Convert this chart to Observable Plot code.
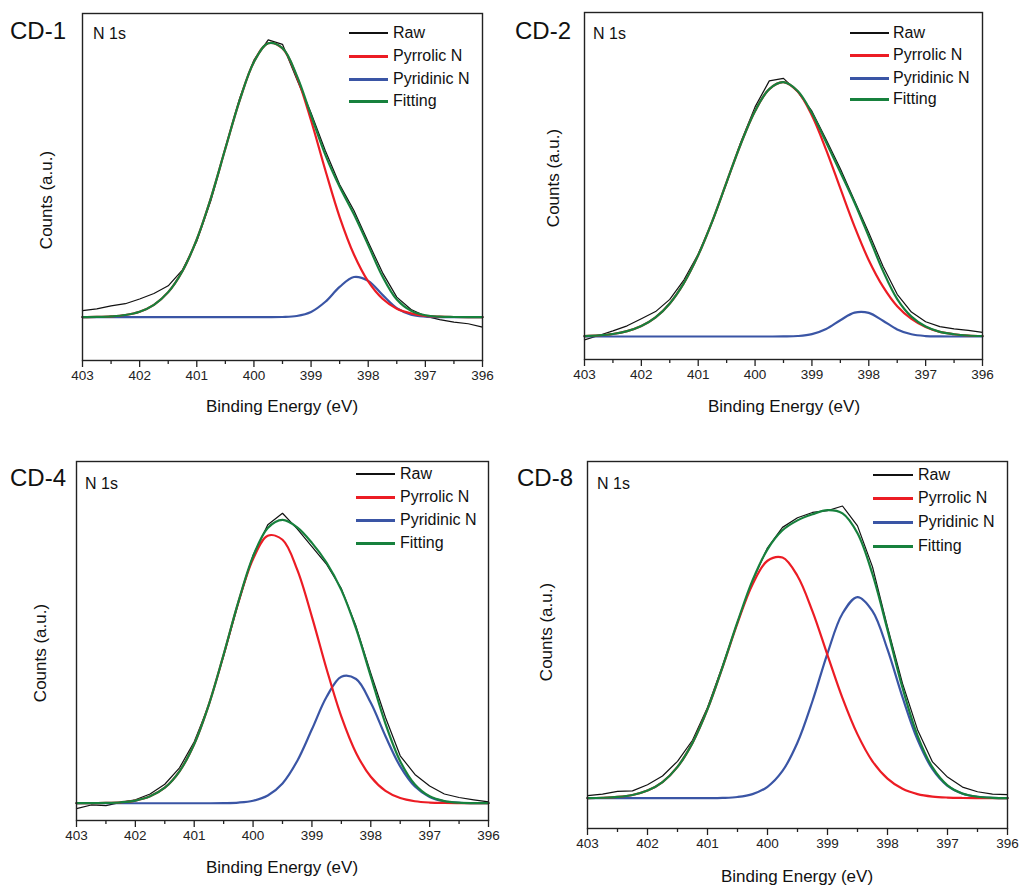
<!DOCTYPE html>
<html><head><meta charset="utf-8">
<script src="https://cdn.jsdelivr.net/npm/d3@7"></script>
<script src="https://cdn.jsdelivr.net/npm/@observablehq/plot@0.6"></script>
<style>
body{margin:0;background:#fff;}
#root{position:relative;width:1026px;height:890px;font-family:"Liberation Sans",Arial,sans-serif;color:#111;overflow:hidden;}
.abs{position:absolute;white-space:nowrap;line-height:1;}
.plot{position:absolute;}
#root svg text{font-size:13.5px !important;font-family:"Liberation Sans",Arial,sans-serif !important;fill:#222;}
</style></head><body><div id="root"></div><script>
// Binding energy sample points (eV)
const energy = [403,402.75,402.5,402.25,402,401.75,401.5,401.25,401,400.75,400.5,400.25,400,399.75,399.5,399.25,399,398.75,398.5,398.25,398,397.75,397.5,397.25,397,396.75,396.5,396.25,396];
const majorTicks = [403,402,401,400,399,398,397,396];
const minorTicks = [402.5,401.5,400.5,399.5,398.5,397.5,396.5];
const seriesNames = ["Raw","Pyrrolic N","Pyridinic N","Fitting"];
const panelNames = ["CD-1","CD-2","CD-4","CD-8"];
const coreLevel = "N 1s";
const xTitle = "Binding Energy (eV)";
const yTitle = "Counts (a.u.)";

// CD-1 (counts, a.u.)
const cd1Raw = [2.4,3.0,4.1,4.9,6.6,8.6,11.4,17.2,27.6,42.6,61.5,79.5,93.5,100.8,99.2,86.5,74.2,60.5,48.2,38.8,27.3,16.2,7.3,2.8,0.4,-0.9,-1.8,-2.4,-3.6];
const cd1Pyrrolic = [0.03,0.1,0.3,0.8,2.0,4.5,9.1,16.8,28.3,43.5,61.3,78.8,92.8,99.6,97.7,87.4,71.5,53.4,36.4,22.8,13.0,6.7,3.1,1.4,0.5,0.2,0.07,0.02,0.01];
const cd1Pyridinic = [0,0,0,0,0,0,0,0,0,0,0,0,0,0,0.07,0.44,1.9,5.6,11.0,14.6,13.2,8.1,3.3,0.9,0.18,0.02,0,0,0];
const cd1Fitting = [0.03,0.1,0.3,0.8,2.0,4.5,9.1,16.8,28.3,43.5,61.3,78.8,92.8,99.6,97.8,87.8,73.4,59.0,47.4,37.4,26.2,14.8,6.4,2.3,0.7,0.2,0.07,0.02,0.01];

// CD-2
const cd2Raw = [-1.3,0.4,2.2,4.2,7.0,9.8,14.6,22.3,32.4,45.2,60.4,76.5,90.3,100.5,101.5,96.2,88.6,77.5,66.0,53.4,40.8,27.6,16.6,9.6,5.8,3.9,3.0,2.4,1.6];
const cd2Pyrrolic = [0.18,0.44,1.0,2.1,4.1,7.5,13.0,21.1,32.0,45.5,60.7,75.8,88.7,97.3,100.0,96.3,86.9,73.4,58.2,43.2,30.0,19.6,11.9,6.9,3.7,1.8,0.9,0.4,0.2];
const cd2Pyridinic = [0,0,0,0,0,0,0,0,0,0,0,0,0,0,0.03,0.19,0.92,2.95,6.4,9.4,9.3,6.2,2.8,0.87,0.18,0.03,0,0,0];
const cd2Fitting = [0.18,0.44,1.0,2.1,4.1,7.5,13.0,21.1,32.0,45.5,60.7,75.8,88.7,97.3,100.0,96.5,87.8,76.4,64.6,52.6,39.3,25.8,14.7,7.8,3.9,1.8,0.9,0.4,0.2];

// CD-4
const cd4Raw = [-1.9,-0.6,-0.8,0.3,1.2,3.2,6.6,12.3,21.4,34.2,51.2,69.6,86.2,96.8,100.8,95.4,89.2,83.0,74.6,61.5,45.2,29.8,16.5,10.0,6.0,3.2,2.0,1.2,0.5];
const cd4Pyrrolic = [0.01,0.03,0.1,0.33,0.93,2.4,5.4,11.1,20.6,34.4,51.6,69.8,84.9,93.0,91.6,81.2,64.8,46.6,30.1,17.5,9.2,4.3,1.8,0.7,0.24,0.08,0.02,0,0];
const cd4Pyridinic = [0,0,0,0,0,0,0,0,0,0,0.05,0.23,0.87,2.7,6.9,14.7,25.7,37.0,44.0,43.2,34.9,23.3,12.8,5.8,2.2,0.68,0.17,0.04,0.01];
const cd4Fitting = [0.01,0.03,0.1,0.33,0.93,2.4,5.4,11.1,20.6,34.4,51.7,70.0,85.8,95.7,98.5,95.9,90.5,83.6,74.1,60.7,44.1,27.6,14.6,6.5,2.4,0.76,0.19,0.04,0.01];

// CD-8
const cd8Raw = [0.9,1.4,2.3,2.5,4.6,7.6,12.6,19.8,31.0,45.2,60.0,74.2,85.5,92.5,95.8,97.6,98.2,99.8,93.0,79.0,58.5,39.2,23.4,12.4,7.2,3.8,2.2,1.4,1.2];
const cd8Pyrrolic = [0.05,0.15,0.43,1.1,2.6,5.5,10.7,18.9,30.4,44.7,59.8,73.0,81.1,82.2,75.9,63.8,48.9,34.2,21.8,12.6,6.7,3.2,1.4,0.56,0.21,0.07,0.02,0.01,0];
const cd8Pyridinic = [0,0,0,0,0,0,0,0,0.02,0.11,0.42,1.4,3.9,9.3,19.0,33.2,49.5,63.1,68.7,63.9,50.8,34.5,20.0,9.9,4.2,1.5,0.47,0.12,0.03];
const cd8Fitting = [0.05,0.15,0.43,1.1,2.6,5.5,10.7,18.9,30.4,44.8,60.2,74.4,85.0,91.5,94.9,97.0,98.4,97.3,90.5,76.5,57.5,37.7,21.4,10.5,4.4,1.6,0.49,0.13,0.03];

const colors = {"Raw":"#111111","Pyrrolic N":"#ec1c24","Pyridinic N":"#3a55a5","Fitting":"#17813d"};
const widths = {"Raw":1.2,"Pyrrolic N":2.2,"Pyridinic N":2.2,"Fitting":2.2};
const FONT = '"Liberation Sans", Arial, sans-serif';

const panels = [
  {name: panelNames[0], series: [cd1Raw, cd1Pyrrolic, cd1Pyridinic, cd1Fitting],
   box: {left: 0, top: 0, width: 500, height: 430}, m: {l: 82, r: 18, t: 13, b: 70}, yDomain: [-15.75, 110.4],
   title: [10, 18.6], n1s: [93, 26.2], legend: {lineX: 349, lineW: 39, textX: 393, rows: [33, 56, 79, 101]},
   xt: {cx: 282, top: 397.8}, yt: {cx: 45.5, cy: 200}},
  {name: panelNames[1], series: [cd2Raw, cd2Pyrrolic, cd2Pyridinic, cd2Fitting],
   box: {left: 500, top: 0, width: 526, height: 430}, m: {l: 84, r: 44, t: 12, b: 71}, yDomain: [-9.04, 127.4],
   title: [515, 18.6], n1s: [593, 26.2], legend: {lineX: 850, lineW: 39, textX: 893, rows: [33, 55, 78, 99]},
   xt: {cx: 784, top: 397.8}, yt: {cx: 553, cy: 178}},
  {name: panelNames[2], series: [cd4Raw, cd4Pyrrolic, cd4Pyridinic, cd4Fitting],
   box: {left: 0, top: 440, width: 500, height: 450}, m: {l: 76, r: 12, t: 21, b: 70}, yDomain: [-6.0, 118.8],
   title: [10, 466], n1s: [85, 476], legend: {lineX: 356, lineW: 39, textX: 400, rows: [474, 497, 520, 543]},
   xt: {cx: 282, top: 858.8}, yt: {cx: 40, cy: 653}},
  {name: panelNames[3], series: [cd8Raw, cd8Pyrrolic, cd8Pyridinic, cd8Fitting],
   box: {left: 500, top: 440, width: 526, height: 450}, m: {l: 87, r: 19, t: 21, b: 62}, yDomain: [-10.35, 115.0],
   title: [517, 466], n1s: [597, 476], legend: {lineX: 873, lineW: 40, textX: 918, rows: [475, 498, 522, 546]},
   xt: {cx: 797, top: 867.8}, yt: {cx: 546, cy: 632}}
];

const root = document.getElementById("root");
function addText(txt, left, top, size, extra) {
  const d = document.createElement("div");
  d.className = "abs";
  d.textContent = txt;
  d.style.left = left + "px";
  d.style.top = top + "px";
  d.style.fontSize = size + "px";
  d.style.lineHeight = size + "px";
  if (extra) Object.assign(d.style, extra);
  root.appendChild(d);
  return d;
}

for (const p of panels) {
  const rows = s => energy.map((e, i) => ({e, v: p.series[s][i], name: seriesNames[s]}));
  const drawOrder = [0, 2, 1, 3];
  const marks = drawOrder.map(s => Plot.line(rows(s), {
    x: "e", y: "v", stroke: colors[seriesNames[s]], strokeWidth: widths[seriesNames[s]],
    curve: s === 0 ? "linear" : "catmull-rom", strokeLinejoin: "round"
  }));
  marks.push(Plot.frame({stroke: "#222", strokeWidth: 1.4}));
  marks.push(Plot.axisX({ticks: majorTicks, tickSize: 7, tickPadding: 3, tickFormat: d => String(d), label: null, stroke: "#222", strokeWidth: 1.3, fill: "#222", fontSize: 13.5}));
  marks.push(Plot.axisX({ticks: minorTicks, tickSize: 4, tickFormat: () => "", label: null, stroke: "#222", strokeWidth: 1.3}));
  const svg = Plot.plot({
    width: p.box.width, height: p.box.height,
    marginLeft: p.m.l, marginRight: p.m.r, marginTop: p.m.t, marginBottom: p.m.b,
    style: {fontFamily: FONT, fontSize: "13.5px", color: "#222", background: "transparent", overflow: "visible"},
    x: {domain: [403, 396], axis: null},
    y: {domain: p.yDomain, axis: null},
    marks
  });
  const wrap = document.createElement("div");
  wrap.className = "plot";
  wrap.style.left = p.box.left + "px";
  wrap.style.top = p.box.top + "px";
  wrap.appendChild(svg);
  root.appendChild(wrap);

  addText(p.name, p.title[0], p.title[1], 24, {color: "#111"});
  addText(coreLevel, p.n1s[0], p.n1s[1], 16, {color: "#111"});
  seriesNames.forEach((nm, i) => {
    const cy = p.legend.rows[i];
    const ln = document.createElement("div");
    ln.style.position = "absolute";
    ln.style.left = p.legend.lineX + "px";
    ln.style.width = p.legend.lineW + "px";
    const w = nm === "Raw" ? 2 : 3;
    ln.style.top = Math.round(cy - w / 2) + "px";
    ln.style.height = w + "px";
    ln.style.background = colors[nm];
    root.appendChild(ln);
    addText(nm, p.legend.textX, cy - 8, 16, {color: "#111"});
  });
  addText(xTitle, p.xt.cx, p.xt.top, 17, {color: "#111", transform: "translateX(-50%)"});
  addText(yTitle, p.yt.cx, p.yt.cy, 17, {color: "#111", transform: "translate(-50%,-50%) rotate(-90deg)"});
}
</script></body></html>
